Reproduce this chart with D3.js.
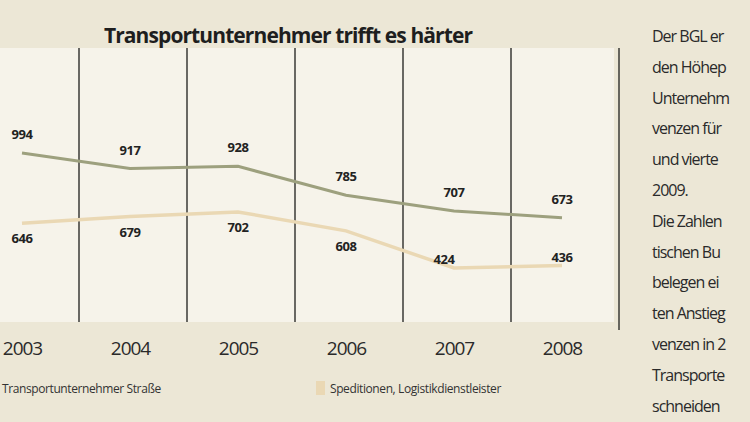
<!DOCTYPE html>
<html><head><meta charset="utf-8">
<script src="https://cdn.jsdelivr.net/npm/d3@7"></script>
<style>body{margin:0;background:#ece7d6;}svg{display:block}</style>
</head><body><svg id="c" width="750" height="422"></svg>
<script>
const years = ["2003","2004","2005","2006","2007","2008"];
const transport = [994,917,928,785,707,673];
const spedition = [646,679,702,608,424,436];
const title = "Transportunternehmer trifft es härter";
const legendLabels = ["Transportunternehmer Straße","Speditionen, Logistikdienstleister"];
const sideText = ["Der BGL er","den Höhep","Unternehm","venzen für","und vierte","2009.","Die Zahlen","tischen Bu","belegen ei","ten Anstieg","venzen in 2","Transporte","schneiden"];

const svg = d3.select("#c");
const font = "'Open Sans', sans-serif";
svg.append("rect").attr("width",750).attr("height",422).attr("fill","#ece7d6");
svg.append("rect").attr("x",0).attr("y",48).attr("width",614).attr("height",274).attr("fill","#f6f3ea");

const x = d3.scalePoint().domain(years).range([22,562]);
const y = d3.scaleLinear().domain([424,994]).range([268,153]);
const step = x.step();

svg.selectAll("line.sep").data(years).join("line")
  .attr("x1",d=>x(d)+step/2+3).attr("x2",d=>x(d)+step/2+3)
  .attr("y1",48).attr("y2",d=>d==="2008"?330:322)
  .attr("stroke","#3a3a36").attr("stroke-width",1.5);

const line = d3.line().x((d,i)=>x(years[i])).y(d=>y(d));
svg.append("path").datum(spedition).attr("d",line).attr("fill","none").attr("stroke","#ead8b4").attr("stroke-width",3.5);
svg.append("path").datum(transport).attr("d",line).attr("fill","none").attr("stroke","#9da07e").attr("stroke-width",3);

svg.selectAll("text.t").data(transport).join("text")
  .attr("x",(d,i)=>x(years[i])).attr("y",d=>y(d)-14)
  .attr("text-anchor","middle").attr("font-family",font).attr("font-weight",700).attr("font-size",13).attr("letter-spacing",-0.5).attr("fill","#222")
  .text(d=>d);
svg.selectAll("text.s").data(spedition).join("text")
  .attr("x",(d,i)=>x(years[i])-(i===4?10:0)).attr("y",(d,i)=>i>=4?y(d)-4:y(d)+20)
  .attr("text-anchor","middle").attr("font-family",font).attr("font-weight",700).attr("font-size",13).attr("letter-spacing",-0.5).attr("fill","#222")
  .text(d=>d);

svg.append("g").attr("transform","translate(0,322)")
  .call(d3.axisBottom(x).tickSize(0).tickPadding(20))
  .call(g=>g.select(".domain").remove())
  .call(g=>g.selectAll("text").attr("font-family",font).attr("font-size",19).attr("letter-spacing",-1).attr("fill","#2a2a2a"));

svg.append("text").attr("x",288).attr("y",43).attr("text-anchor","middle")
  .attr("font-family",font).attr("font-weight",700).attr("font-size",21).attr("letter-spacing",-0.9).attr("fill","#1e1e1e").text(title);

svg.append("rect").attr("x",316).attr("y",381).attr("width",9).attr("height",14).attr("fill","#ead8b4");
svg.append("text").attr("x",2).attr("y",393).attr("font-family",font).attr("font-size",12).attr("letter-spacing",-0.4).attr("fill","#333")
  .text(legendLabels[0]);
svg.append("text").attr("x",330).attr("y",393).attr("font-family",font).attr("font-size",12).attr("letter-spacing",-0.4).attr("fill","#333")
  .text(legendLabels[1]);

svg.selectAll("text.side").data(sideText).join("text")
  .attr("x",652).attr("y",(d,i)=>42+i*30.8)
  .attr("font-family",font).attr("font-size",16).attr("letter-spacing",-1).attr("fill","#2a2a2a").text(d=>d);
</script></body></html>
